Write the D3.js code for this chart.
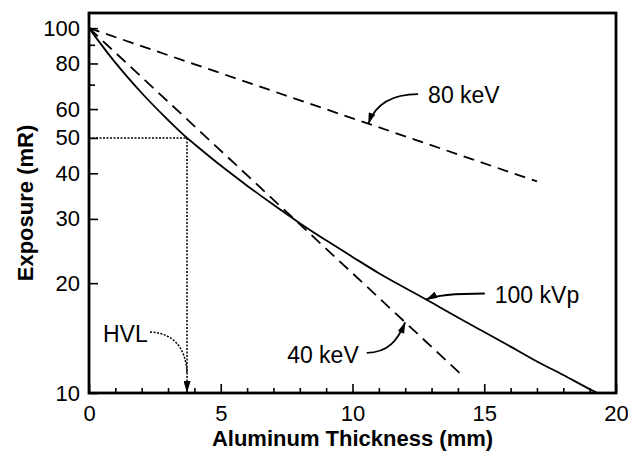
<!DOCTYPE html>
<html>
<head>
<meta charset="utf-8">
<script src="https://cdn.jsdelivr.net/npm/d3@7"></script>
<style>
  html, body { margin: 0; padding: 0; background: #fff; }
  svg { display: block; font-family: "Liberation Sans", Arial, Helvetica, sans-serif; }
</style>
</head>
<body>
<svg id="chart" width="628" height="452"></svg>
<script>
// Exposure vs aluminum filtration (log scale)
const thickness100kVp = [0, 1, 2, 3, 3.72, 4, 5, 6, 7, 8, 9, 10, 11, 12, 13, 14, 15, 16, 17, 18, 19, 19.3];
const exposure100kVp  = [100, 80.4, 66.4, 56.0, 50, 48.1, 42.0, 37.0, 32.8, 29.2, 26.2, 23.6, 21.3, 19.4, 17.7, 16.1, 14.7, 13.4, 12.2, 11.2, 10.25, 10];

const thickness80keV = [0, 17];
const exposure80keV  = [100, 38];

const thickness40keV = [0, 14.15];
const exposure40keV  = [100, 11.2];

const hvlThickness = 3.72;
const hvlExposure = 50;

const xMajorTicks = [0, 5, 10, 15, 20];
const xMinorTicks = [1, 2, 3, 4, 6, 7, 8, 9, 11, 12, 13, 14, 16, 17, 18, 19];
const yMajorTicks = [10, 20, 30, 40, 50, 60, 80, 100];
const yMinorTicks = [70, 90];

// Label callouts: text anchor (data coords) and the thickness where the arrow lands
const callouts = [
  { text: "80 keV",  tx: 12.87, ty: 62.3, tipX: 10.6, xs: thickness80keV, ys: exposure80keV, side: "left" },
  { text: "100 kVp", tx: 15.4,  ty: 17.7, tipX: 12.8, xs: thickness100kVp, ys: exposure100kVp, side: "left" },
  { text: "40 keV",  tx: 7.52,  ty: 12.1, tipX: 12.0, xs: thickness40keV, ys: exposure40keV, side: "right" }
];

const svg = d3.select("#chart");
const plot = { left: 89, right: 616, top: 13, bottom: 393 };

const x = d3.scaleLinear().domain([0, 20]).range([plot.left, plot.right]);
const y = d3.scaleLog().domain([10, 110]).range([plot.bottom, plot.top]);

// arrowhead markers
const defs = svg.append("defs");
defs.append("marker")
  .attr("id", "arrow").attr("viewBox", "0 0 11 7")
  .attr("refX", 11).attr("refY", 3.5)
  .attr("markerWidth", 11).attr("markerHeight", 7)
  .attr("markerUnits", "userSpaceOnUse").attr("orient", "auto")
  .append("path").attr("d", "M0,0 L11,3.5 L0,7 Z").attr("fill", "#000");
defs.append("marker")
  .attr("id", "arrowHvl").attr("viewBox", "0 0 12 7")
  .attr("refX", 12).attr("refY", 3.5)
  .attr("markerWidth", 12).attr("markerHeight", 7)
  .attr("markerUnits", "userSpaceOnUse").attr("orient", "auto")
  .append("path").attr("d", "M0,0 L12,3.5 L0,7 Z").attr("fill", "#000");

// axes with inward ticks
svg.append("g").attr("transform", `translate(0,${plot.bottom})`)
  .call(d3.axisBottom(x).tickValues(xMajorTicks).tickSize(-9).tickSizeOuter(0).tickPadding(12).tickFormat(d3.format("d")));
svg.append("g").attr("transform", `translate(0,${plot.bottom})`)
  .call(d3.axisBottom(x).tickValues(xMinorTicks).tickSize(-5).tickSizeOuter(0).tickFormat(""));
svg.append("g").attr("transform", `translate(${plot.left},0)`)
  .call(d3.axisLeft(y).tickValues(yMajorTicks).tickSize(-9).tickSizeOuter(0).tickPadding(9).tickFormat(d3.format("d")));
svg.append("g").attr("transform", `translate(${plot.left},0)`)
  .call(d3.axisLeft(y).tickValues(yMinorTicks).tickSize(-6).tickSizeOuter(0).tickFormat(""));

svg.selectAll(".domain").remove();
svg.selectAll(".tick line").attr("stroke", "#000").attr("stroke-width", 1.6);
svg.selectAll(".tick text").attr("fill", "#000").attr("font-size", 22);

// frame
svg.append("rect")
  .attr("x", plot.left).attr("y", plot.top)
  .attr("width", plot.right - plot.left).attr("height", plot.bottom - plot.top)
  .attr("fill", "none").attr("stroke", "#000").attr("stroke-width", 2.8);

// axis titles
svg.append("text")
  .attr("x", (plot.left + plot.right) / 2).attr("y", 446)
  .attr("text-anchor", "middle").attr("font-size", 22).attr("font-weight", "bold")
  .text("Aluminum Thickness (mm)");
svg.append("text")
  .attr("transform", `translate(33,${(plot.top + plot.bottom) / 2}) rotate(-90)`)
  .attr("text-anchor", "middle").attr("font-size", 22).attr("font-weight", "bold")
  .text("Exposure (mR)");

const line = d3.line().x(d => x(d[0])).y(d => y(d[1]));
const smooth = d3.line().x(d => x(d[0])).y(d => y(d[1])).curve(d3.curveMonotoneX);

// monoenergetic beams (straight on a log axis)
svg.append("path").datum(d3.zip(thickness80keV, exposure80keV))
  .attr("d", line).attr("fill", "none").attr("stroke", "#000")
  .attr("stroke-width", 1.8).attr("stroke-dasharray", "11,7");
svg.append("path").datum(d3.zip(thickness40keV, exposure40keV))
  .attr("d", line).attr("fill", "none").attr("stroke", "#000")
  .attr("stroke-width", 1.8).attr("stroke-dasharray", "12,7");

// polyenergetic beam
svg.append("path").datum(d3.zip(thickness100kVp, exposure100kVp))
  .attr("d", smooth).attr("fill", "none").attr("stroke", "#000").attr("stroke-width", 1.8);

// half value layer guide
svg.append("path")
  .attr("d", `M${x(0)},${y(hvlExposure)} H${x(hvlThickness)}`)
  .attr("fill", "none").attr("stroke", "#000").attr("stroke-width", 1.5).attr("stroke-dasharray", "2,1.5");
svg.append("path")
  .attr("d", `M${x(hvlThickness)},${y(hvlExposure)} V${y(10)}`)
  .attr("fill", "none").attr("stroke", "#000").attr("stroke-width", 1.5).attr("stroke-dasharray", "2,1.5")
  .attr("marker-end", "url(#arrowHvl)");

// HVL label with dotted leader
svg.append("text").attr("x", 103).attr("y", 342).attr("font-size", 23).text("HVL");
{
  const sx = 150, sy = 332, ex = x(hvlThickness), ey = 374;
  svg.append("path")
    .attr("d", `M${sx},${sy} C${sx + 22},${sy + 1} ${ex - 1},${sy + 14} ${ex},${ey}`)
    .attr("fill", "none").attr("stroke", "#000").attr("stroke-width", 1.5).attr("stroke-dasharray", "2,1.5");
}

// curve callouts
callouts.forEach(c => {
  const interp = d3.scaleLinear().domain(c.xs).range(c.ys.map(v => Math.log10(v)));
  const tipX = x(c.tipX);
  const tipY = y(Math.pow(10, interp(c.tipX)));
  const txX = x(c.tx), txY = y(c.ty);
  const label = svg.append("text").attr("x", txX).attr("y", txY).attr("font-size", 23).text(c.text);
  if (c.side === "left") {
    const sx = txX - 10, sy = txY - 9;
    const dx = sx - tipX;
    svg.append("path")
      .attr("d", `M${sx},${sy} C${sx - dx * 0.5},${sy} ${tipX + dx * 0.15},${sy + (tipY - sy) * 0.3} ${tipX},${tipY}`)
      .attr("fill", "none").attr("stroke", "#000").attr("stroke-width", 1.8)
      .attr("marker-end", "url(#arrow)");
  } else {
    const textW = label.node().getComputedTextLength();
    const sx = txX + textW + 8, sy = txY - 10;
    const dx = tipX - sx;
    svg.append("path")
      .attr("d", `M${sx},${sy} C${sx + dx * 0.55},${sy} ${tipX - dx * 0.2},${sy + (tipY - sy) * 0.4} ${tipX},${tipY}`)
      .attr("fill", "none").attr("stroke", "#000").attr("stroke-width", 1.8)
      .attr("marker-end", "url(#arrow)");
  }
});
</script>
</body>
</html>
